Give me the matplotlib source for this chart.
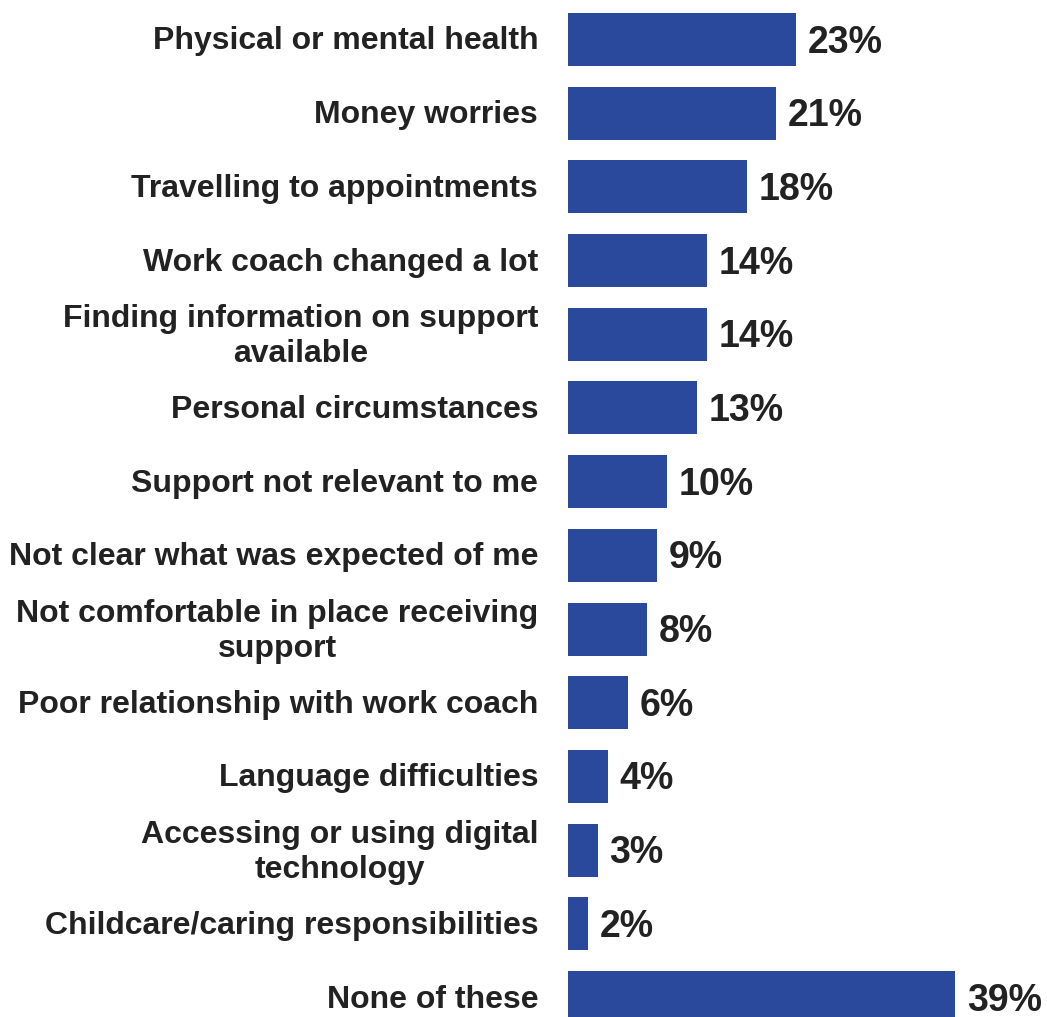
import matplotlib
matplotlib.use("Agg")
import matplotlib.pyplot as plt
from matplotlib import font_manager as fm
import numpy as np

BAR_BLUE = "#2a489c"
TEXT_DARK = "#222222"

# pick the regular-width bold face explicitly
_bold = [f for f in fm.findSystemFonts() if f.endswith("LiberationSans-Bold.ttf")]
LABEL_FONT = fm.FontProperties(fname=_bold[0], size=23) if _bold else \
    fm.FontProperties(family="Liberation Sans", weight="bold", size=23)
VALUE_FONT = LABEL_FONT.copy()
VALUE_FONT.set_size(27)

categories = [
    "Physical or mental health",
    "Money worries",
    "Travelling to appointments",
    "Work coach changed a lot",
    "Finding information on support\navailable",
    "Personal circumstances",
    "Support not relevant to me",
    "Not clear what was expected of me",
    "Not comfortable in place receiving\nsupport",
    "Poor relationship with work coach",
    "Language difficulties",
    "Accessing or using digital\ntechnology",
    "Childcare/caring responsibilities",
    "None of these",
]
values = [23, 21, 18, 14, 14, 13, 10, 9, 8, 6, 4, 3, 2, 39]

fig = plt.figure(figsize=(10.47, 10.17), dpi=100)
fig.patch.set_facecolor("white")
ax = fig.add_axes([568 / 1047, 0, 1 - 568 / 1047, 1])

y = np.arange(len(categories))
ax.barh(y, values, height=0.72, color=BAR_BLUE, zorder=3)

ax.set_xlim(0, (1047 - 568) / 9.92)
ax.set_ylim(13 + 19.5 / 73.7, -39.5 / 73.7)

# value labels just past the bar ends, digits centred on the bar
for yi, v in zip(y, values):
    ax.annotate(f"{v}%", (v, yi), textcoords="offset points", xytext=(8.5, -9.4),
                ha="left", va="baseline", fontproperties=VALUE_FONT,
                color=TEXT_DARK)

# category labels to the left of the bars (va=baseline uses the last line)
for yi, label in zip(y, categories):
    dy = -7.2 if "\n" not in label else -19.8
    ax.annotate(label, (0, yi), textcoords="offset points", xytext=(-21.5, dy),
                ha="right", va="baseline", multialignment="center",
                fontproperties=LABEL_FONT, color=TEXT_DARK,
                linespacing=1.2, annotation_clip=False)

ax.set_xticks([])
ax.set_yticks([])
for side in ax.spines.values():
    side.set_visible(False)

fig.savefig("out.png", dpi=100, facecolor="white")
